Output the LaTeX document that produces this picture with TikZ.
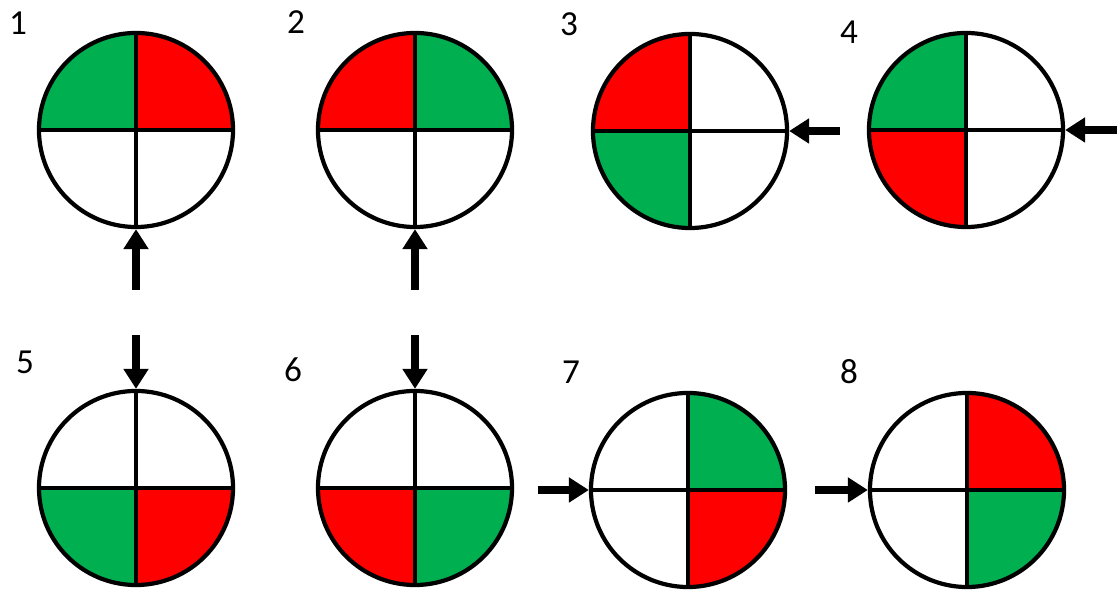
\documentclass[tikz,border=0pt]{standalone}
\usepackage{fontspec}
\setsansfont{Carlito}
\usetikzlibrary{arrows.meta}
\definecolor{qGreen}{HTML}{00B050}
\definecolor{qRed}{HTML}{FF0000}

\begin{document}
\begin{tikzpicture}[
  x=0.025cm, y=0.025cm,
  disc/.style={circle, draw, line width=3pt, minimum size=4.85cm, inner sep=0pt},
  cross/.style={line width=2.4pt},
  push/.style={line width=5pt, -{Triangle[length=0.5cm, width=0.6cm]}},
  num/.style={font=\sffamily\fontsize{25}{29}\selectfont}
]
\useasboundingbox (0,0) rectangle (1120,590);

% centres of the discs
\foreach \n/\x/\y in {1/136/460, 2/415/460, 3/690/459, 4/966/460,
                      5/136/102, 6/415/102, 7/688/100, 8/967/100}
  \coordinate (c\n) at (\x,\y);

% coloured quarters
\foreach \n/\a/\col in {1/90/qGreen, 1/0/qRed, 2/90/qRed, 2/0/qGreen,
                        3/90/qRed, 3/180/qGreen, 4/90/qGreen, 4/180/qRed,
                        5/180/qGreen, 5/270/qRed, 6/180/qRed, 6/270/qGreen,
                        7/0/qGreen, 7/270/qRed, 8/0/qRed, 8/270/qGreen}
  \fill[\col] (c\n) -- ++(\a:97) arc[start angle=\a, delta angle=90, radius=97] -- cycle;

\foreach \n in {1,...,8} {
  \node[disc] (d\n) at (c\n) {};
  \draw[cross] (d\n.north) -- (d\n.south) (d\n.west) -- (d\n.east);
}

\node[num] (n1) at (18,567) {1};
\node[num] (n2) at (296,568) {2};
\node[num] (n3) at (569,566) {3};
\node[num] (n4) at (849,558) {4};
\node[num] (n5) at (25,228) {5};
\node[num] (n6) at (293,220) {6};
\node[num] (n7) at (571,218) {7};
\node[num] (n8) at (849,218) {8};

% arrows
\coordinate (t1) at (136,300);
\coordinate (t2) at (415,300);
\coordinate (t3) at (840,459);
\coordinate (t4) at (1117,460);
\coordinate (t5) at (136,255);
\coordinate (t6) at (415,255);
\coordinate (t7) at (538,100);
\coordinate (t8) at (815,100);
\draw[push] (t1) -- (d1.south);
\draw[push] (t2) -- (d2.south);
\draw[push] (t3) -- (d3.east);
\draw[push] (t4) -- (d4.east);
\draw[push] (t5) -- (d5.north);
\draw[push] (t6) -- (d6.north);
\draw[push] (t7) -- (d7.west);
\draw[push] (t8) -- (d8.west);
\end{tikzpicture}
\end{document}
